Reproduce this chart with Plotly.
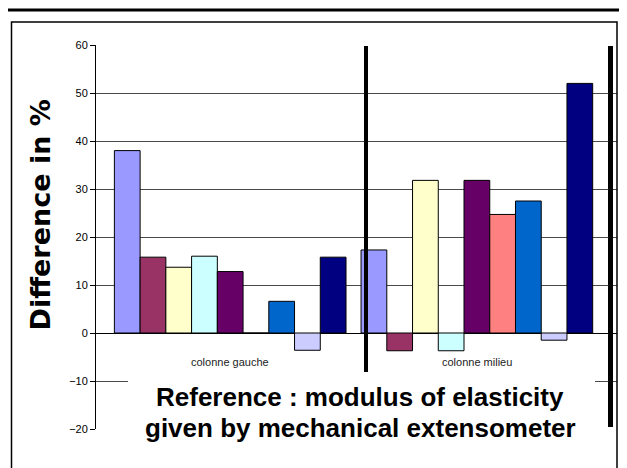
import plotly.graph_objects as go

categories = ["colonne gauche", "colonne milieu"]
series_names = ["Série 1", "Série 2", "Série 3", "Série 4", "Série 5",
                "Série 6", "Série 7", "Série 8", "Série 9"]
series_colors = ["#9999FF", "#993366", "#FFFFCC", "#CCFFFF", "#660066",
                 "#FF8080", "#0066CC", "#CCCCFF", "#000080"]
gauche_values = [38.0, 15.8, 13.7, 16.0, 12.8, 0.0, 6.6, -3.6, 15.8]
milieu_values = [17.3, -3.7, 31.8, -3.7, 31.8, 24.7, 27.5, -1.5, 52.0]
y_ticks = [-20, -10, 0, 10, 20, 30, 40, 50, 60]
y_title = "Difference in %"
note_lines = ["Reference : modulus of elasticity", "given by mechanical extensometer"]

# page body has an 8px margin; figure sized so it fills the window
OFF = 8
W, H = 627 - OFF, 468 - OFF
L, R, T, B = 96 - OFF, W - (617 - OFF), 45 - OFF, H - (429 - OFF)
PW, PH = W - L - R, H - T - B


def px(x):  # screen x -> paper
    return (x - OFF - L) / PW


def py(y):  # screen y -> paper
    return (H - B - (y - OFF)) / PH


fig = go.Figure()
for name, color, g, m in zip(series_names, series_colors, gauche_values, milieu_values):
    fig.add_trace(go.Bar(
        x=categories, y=[g, m], name=name,
        marker=dict(color=color, line=dict(color="#000000", width=1)),
    ))

shapes = [
    dict(type="line", xref="paper", yref="paper", x0=px(OFF), x1=px(627), y0=py(10), y1=py(10),
         line=dict(color="black", width=3), layer="above"),
    dict(type="rect", xref="paper", yref="paper", x0=px(11.5), x1=px(617), y0=py(490), y1=py(22),
         line=dict(color="black", width=1.5), layer="above"),
    dict(type="line", xref="paper", yref="paper", x0=px(366), x1=px(366), y0=py(46), y1=py(380),
         line=dict(color="black", width=4), layer="above"),
    dict(type="line", xref="paper", yref="paper", x0=px(610.5), x1=px(610.5), y0=py(46), y1=py(427),
         line=dict(color="black", width=5), layer="above"),
    dict(type="rect", xref="paper", yref="paper", x0=px(128), x1=px(595), y0=py(448), y1=py(372),
         fillcolor="white", line=dict(width=0), layer="above"),
]

annotations = [
    dict(text="<b>" + y_title + "</b>", xref="paper", yref="paper", x=px(40), y=py(215.5),
         textangle=-90, showarrow=False,
         font=dict(family="DejaVu Sans", size=27, color="black"),
         xanchor="center", yanchor="middle"),
]
for line_text, yy in zip(note_lines, [397, 428]):
    annotations.append(dict(text="<b>" + line_text + "</b>", xref="paper", yref="paper",
                            x=px(360), y=py(yy), showarrow=False,
                            font=dict(family="Liberation Sans", size=26, color="black"),
                            xanchor="center", yanchor="middle"))
for c in categories:
    annotations.append(dict(text=c, x=c, y=-6, xref="x", yref="y", showarrow=False,
                            font=dict(family="Liberation Sans", size=11, color="#222222"),
                            xanchor="center", yanchor="middle"))

fig.update_layout(
    width=W, height=H,
    margin=dict(l=L, r=R, t=T, b=B, pad=0),
    paper_bgcolor="white", plot_bgcolor="white",
    barmode="group", bargap=0.061, bargroupgap=0,
    showlegend=False,
    shapes=shapes, annotations=annotations,
    font=dict(family="Liberation Sans", size=10, color="black"),
    xaxis=dict(type="category", range=[-0.544, 1.568], showticklabels=False,
               showgrid=False, zeroline=False, showline=False, ticks=""),
    yaxis=dict(range=[-20, 60], tickvals=y_ticks, showgrid=True, gridcolor="#4a4a4a",
               gridwidth=1, zeroline=True, zerolinecolor="black", zerolinewidth=1,
               showline=True, linecolor="black", linewidth=1, ticks="outside",
               ticklen=5, tickcolor="black", tickfont=dict(size=11, family="Liberation Sans")),
)

fig.write_html("out.html")
